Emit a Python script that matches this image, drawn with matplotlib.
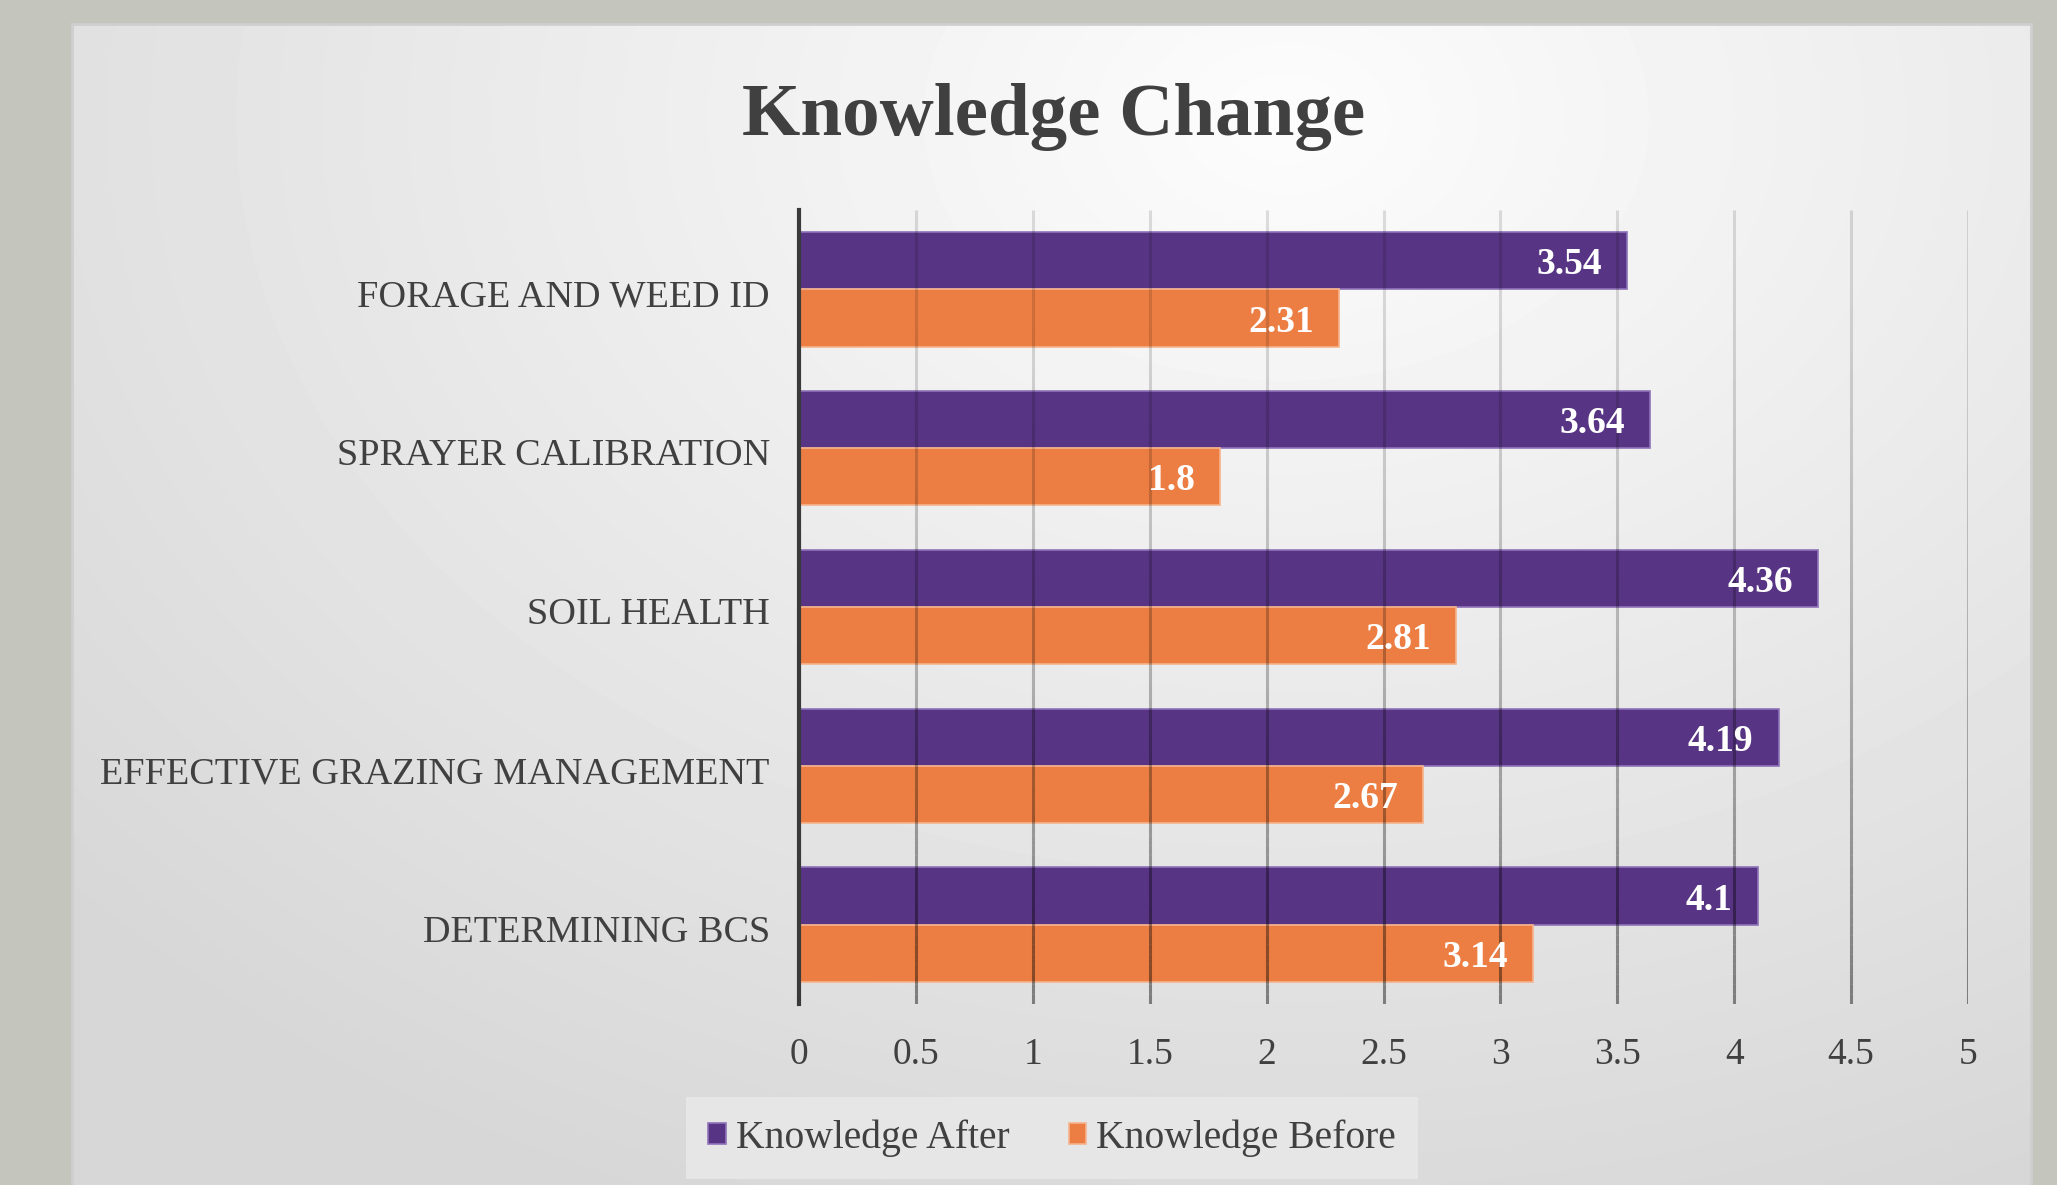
import numpy as np
import matplotlib
matplotlib.use("Agg")
import matplotlib.pyplot as plt
import matplotlib.transforms as mtransforms
from matplotlib.collections import LineCollection

categories = ["FORAGE AND WEED ID", "SPRAYER CALIBRATION", "SOIL HEALTH",
              "EFFECTIVE GRAZING MANAGEMENT", "DETERMINING BCS"]
after = [3.54, 3.64, 4.36, 4.19, 4.1]
before = [2.31, 1.8, 2.81, 2.67, 3.14]
after_labels = ["3.54", "3.64", "4.36", "4.19", "4.1"]
before_labels = ["2.31", "1.8", "2.81", "2.67", "3.14"]
xticks = np.arange(0, 5.01, 0.5)
xtick_labels = ["0", "0.5", "1", "1.5", "2", "2.5", "3", "3.5", "4", "4.5", "5"]

purple = "#583584"
orange = "#EC7E43"
text_col = "#404040"
serif = ["Liberation Serif", "DejaVu Serif"]
plt.rcParams["font.family"] = serif

W, H = 2057, 1185
fig = plt.figure(figsize=(W / 100, H / 100), dpi=100)
fig.patch.set_facecolor("#c4c5bd")

# slide panel with soft gradient
bg = fig.add_axes([72 / W, 0, (2031 - 72) / W, 1 - 24 / H])
yy, xx = np.mgrid[0:1:300j, 0:1:500j]
d = np.sqrt(((xx - 0.62) / 0.9) ** 2 + ((yy - 0.08) / 1.1) ** 2)
shade = np.clip(0.99 - 0.16 * d, 0.84, 1.0)
bg.imshow(shade, cmap="gray", vmin=0, vmax=1, aspect="auto",
          extent=[0, 1, 1, 0], interpolation="bicubic")
bg.set_xlim(0, 1)
bg.set_ylim(1, 0)
for s in bg.spines.values():
    s.set_color("#cfcfcf")
    s.set_linewidth(2)
bg.spines["bottom"].set_visible(False)
bg.set_xticks([])
bg.set_yticks([])

ax = fig.add_axes([799 / W, 1 - 1004 / H, (1968 - 799) / W, (1004 - 210) / H])
ax.set_facecolor("none")
y = np.arange(len(categories))
h = 0.36
ax.barh(y - h / 2, after, height=h, color=purple, edgecolor="#8f73b8",
        linewidth=1.2, label="Knowledge After", zorder=2)
ax.barh(y + h / 2, before, height=h, color=orange, edgecolor="#f6b38c",
        linewidth=1.2, label="Knowledge Before", zorder=2)

for yi, v, t in zip(y - h / 2, after, after_labels):
    ax.annotate(t, (v, yi), xytext=(-18, -3), textcoords="offset points",
                ha="right", va="center", color="white", fontsize=27,
                fontweight="bold", zorder=4)
for yi, v, t in zip(y + h / 2, before, before_labels):
    ax.annotate(t, (v, yi), xytext=(-18, -3), textcoords="offset points",
                ha="right", va="center", color="white", fontsize=27,
                fontweight="bold", zorder=4)

ax.set_xlim(0, 5)
ax.set_ylim(len(categories) - 0.5, -0.5)

# vertical gridlines fading from light (top) to darker (bottom)
n = 80
ys = np.linspace(-0.5, len(categories) - 0.5, n + 1)
for xv in xticks[1:]:
    segs = [[(xv, ys[i]), (xv, ys[i + 1])] for i in range(n)]
    alphas = 0.12 + 0.32 * np.linspace(0, 1, n) ** 1.6
    cols = [(0, 0, 0, a) for a in alphas]
    ax.add_collection(LineCollection(segs, colors=cols, linewidths=2.2,
                                     zorder=3))

ax.set_xticks(xticks)
ax.set_xticklabels(xtick_labels)
ax.set_yticks(y)
ax.set_yticklabels(categories)
ax.tick_params(axis="x", length=0, pad=24, labelsize=27, labelcolor=text_col)
ax.tick_params(axis="y", length=0, pad=21, labelsize=27.5, labelcolor=text_col)
shift = mtransforms.ScaledTranslation(0, -4 / 100, fig.dpi_scale_trans)
for lbl in ax.get_yticklabels():
    lbl.set_transform(lbl.get_transform() + shift)
for s in ["top", "right", "bottom"]:
    ax.spines[s].set_visible(False)
ax.spines["left"].set_color("#3a3a3a")
ax.spines["left"].set_linewidth(3)
ax.spines["left"].set_zorder(5)

fig.text(1054 / W, 1 - 117 / H, "Knowledge Change", ha="center", va="center",
         fontsize=54, fontweight="bold", color=text_col)

leg = fig.legend(loc="center", bbox_to_anchor=(1052 / W, 1 - 1138 / H), ncol=2,
                 fontsize=28.5, frameon=True, facecolor="#e6e6e6",
                 edgecolor="none", fancybox=False, handlelength=0.45,
                 handleheight=0.45, handletextpad=0.25, columnspacing=1.5,
                 borderpad=0.55, borderaxespad=0, labelcolor=text_col)
leg.get_frame().set_alpha(1)

fig.savefig("out.png", dpi=100, facecolor=fig.get_facecolor())
